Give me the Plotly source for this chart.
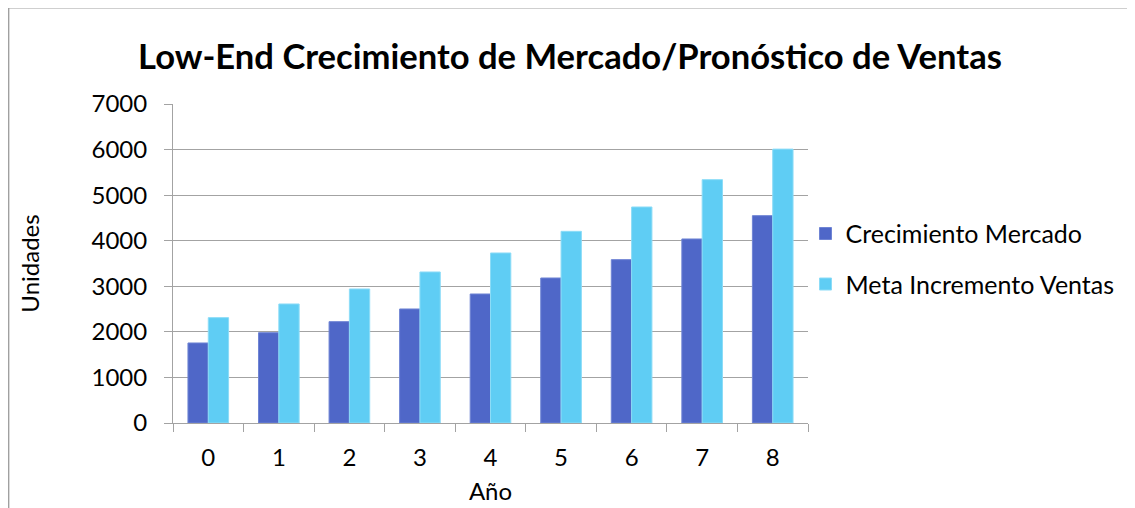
import plotly.graph_objects as go

years = ["0", "1", "2", "3", "4", "5", "6", "7", "8"]
crecimiento_mercado = [1756, 1982, 2224, 2502, 2831, 3182, 3585, 4038, 4550]
meta_incremento_ventas = [2312, 2612, 2941, 3314, 3731, 4206, 4740, 5340, 6010]
y_ticks = [0, 1000, 2000, 3000, 4000, 5000, 6000, 7000]

# page has an 8px body margin; figure coordinates are page - 8
OFF = 8
W, H = 1127, 500
L, T = 173 - OFF, 104 - OFF
PLOT_R, PLOT_B = 808.5 - OFF, 423.5 - OFF
R, B = W - PLOT_R, H - PLOT_B
PW, PH = PLOT_R - L, PLOT_B - T

def px_x(x):  # page px -> paper
    return (x - OFF - L) / PW

def px_y(y):
    return (PLOT_B - (y - OFF)) / PH

FONT = "Lato"
GRID = "#A3A3A3"

fig = go.Figure()
fig.add_trace(go.Bar(
    x=years, y=crecimiento_mercado, name="Crecimiento Mercado",
    marker=dict(color="#4F67C8", line=dict(color="#6F84D4", width=1)),
    legendgroup="a",
))
fig.add_trace(go.Bar(
    x=years, y=meta_incremento_ventas, name="Meta Incremento Ventas",
    marker=dict(color="#5FCDF4", line=dict(color="#8CDCF7", width=1)),
    legendgroup="b",
))

fig.update_layout(
    width=W, height=H,
    margin=dict(l=L, r=R, t=T, b=B, pad=0, autoexpand=False),
    paper_bgcolor="white", plot_bgcolor="white",
    barmode="group", bargap=0.424, bargroupgap=0,
    font=dict(family=FONT, size=24, color="#000000"),
    title=dict(
        text="<b>Low-End Crecimiento de Mercado/Pronóstico de Ventas</b>",
        x=(570 - OFF) / W, xanchor="center", y=1 - (57 - OFF) / H, yanchor="middle",
        font=dict(family=FONT, size=34.6, color="#000000"),
    ),
    legend=dict(
        x=px_x(806), xanchor="left", y=px_y(259), yanchor="middle",
        font=dict(family=FONT, size=25),
        tracegroupgap=15, traceorder="grouped",
        bgcolor="rgba(0,0,0,0)",
    ),
    showlegend=True,
    xaxis=dict(
        type="category",
        automargin=False,
        showgrid=False,
        showline=True, linecolor=GRID, linewidth=1,
        ticks="outside", ticklen=8, tickcolor=GRID, tickwidth=1,
        tickson="boundaries",
        ticklabelstandoff=13,
        tickfont=dict(family=FONT, size=24),
        title=dict(text="Año", standoff=13, font=dict(family=FONT, size=24)),
        range=[-0.5, 8.5],
    ),
    yaxis=dict(
        range=[0, 7000],
        automargin=False,
        tickvals=y_ticks,
        showgrid=True, gridcolor=GRID, gridwidth=1,
        showline=True, linecolor=GRID, linewidth=1,
        ticks="outside", ticklen=8, tickcolor=GRID, tickwidth=1,
        ticklabelstandoff=12,
        zeroline=False,
        tickfont=dict(family=FONT, size=24),
        title=dict(text="Unidades", standoff=45, font=dict(family=FONT, size=24)),
    ),
    shapes=[
        dict(type="line", xref="paper", yref="paper",
             x0=px_x(8), x1=px_x(1140), y0=px_y(7.5), y1=px_y(7.5),
             line=dict(color="#A0A0A0", width=1.5)),
        dict(type="line", xref="paper", yref="paper",
             x0=px_x(8.5), x1=px_x(8.5), y0=px_y(7), y1=px_y(520),
             line=dict(color="#A0A0A0", width=1.5)),
    ],
)

fig.write_html("out.html")
